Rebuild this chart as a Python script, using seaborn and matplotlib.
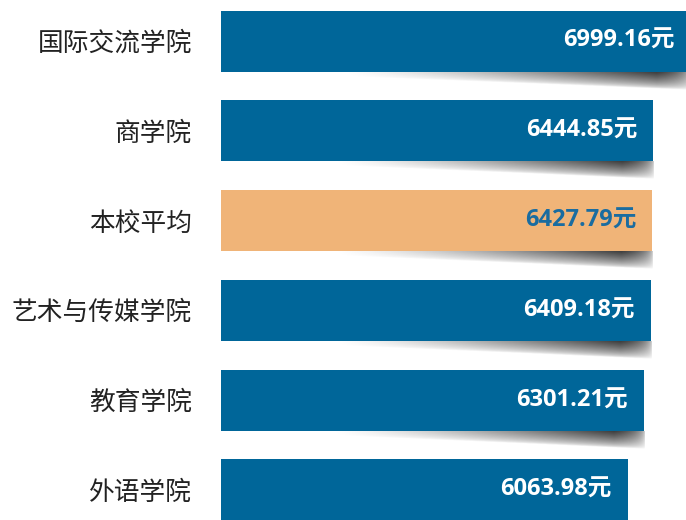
import numpy as np
import seaborn as sns
import matplotlib.pyplot as plt

# data
colleges = ["国际交流学院", "商学院", "本校平均", "艺术与传媒学院", "教育学院", "外语学院"]
avg_income = [6999.16, 6444.85, 6427.79, 6409.18, 6301.21, 6063.98]

blue = "#006699"
orange = "#F0B478"
bar_colors = [orange if c == "本校平均" else blue for c in colleges]
text_colors = ["#1A6CA0" if c == "本校平均" else "white" for c in colleges]

sns.set_style("white")
plt.rcParams['font.family'] = ['Noto Sans CJK SC', 'DejaVu Sans']

fig = plt.figure(figsize=(6.86, 5.20), dpi=100)
ax = fig.add_axes([221 / 686, 0, 1 - 221 / 686, 1])

bar_h = 0.68
sns.barplot(x=avg_income, y=colleges, hue=colleges, palette=bar_colors,
            orient="h", width=bar_h, legend=False, ax=ax, zorder=3,
            linewidth=0, saturation=1)

# soft curved shadow under the right part of each bar
nx, ny = 300, 40
u = np.linspace(0, 1, nx)[None, :]
w = np.linspace(0, 1, ny)[:, None]
depth = 0.25 + 0.75 * u ** 1.1
fall = np.clip(1 - w / depth, 0, 1) ** 0.6
strength = np.clip(u, 0, 1) ** 1.3 * np.clip((1 - u) / 0.1, 0, 1) ** 0.4
alpha = 0.97 * fall * strength
img = np.zeros((ny, nx, 4))
img[..., :3] = 0.1
img[..., 3] = np.clip(alpha, 0, 1)
shadow_h = 0.2
for i, v in enumerate(avg_income):
    yb = i + bar_h / 2
    ax.imshow(img, extent=[0.26 * v, v * 1.004, yb + shadow_h, yb],
              origin="upper", aspect="auto", zorder=2, interpolation="bilinear")

# value labels
for i, v in enumerate(avg_income):
    ax.annotate(f"{v:.2f}元", xy=(v, i), xytext=(-11.5, 0),
                textcoords="offset points", ha="right", va="center",
                fontsize=17, fontweight="bold", color=text_colors[i],
                family=["Open Sans", "Noto Sans CJK SC"], zorder=4,
                annotation_clip=False)

ax.set_xlim(0, 6935)
ax.set_ylim(5.334, -0.457)
ax.set_xlabel("")
ax.set_ylabel("")
ax.set_xticks([])
ax.tick_params(axis="y", length=0, pad=21, labelsize=18.5)
for lab in ax.get_yticklabels():
    lab.set_fontweight("light")
    lab.set_color("#222222")
for s in ax.spines.values():
    s.set_visible(False)

fig.savefig("out.png", dpi=100)
